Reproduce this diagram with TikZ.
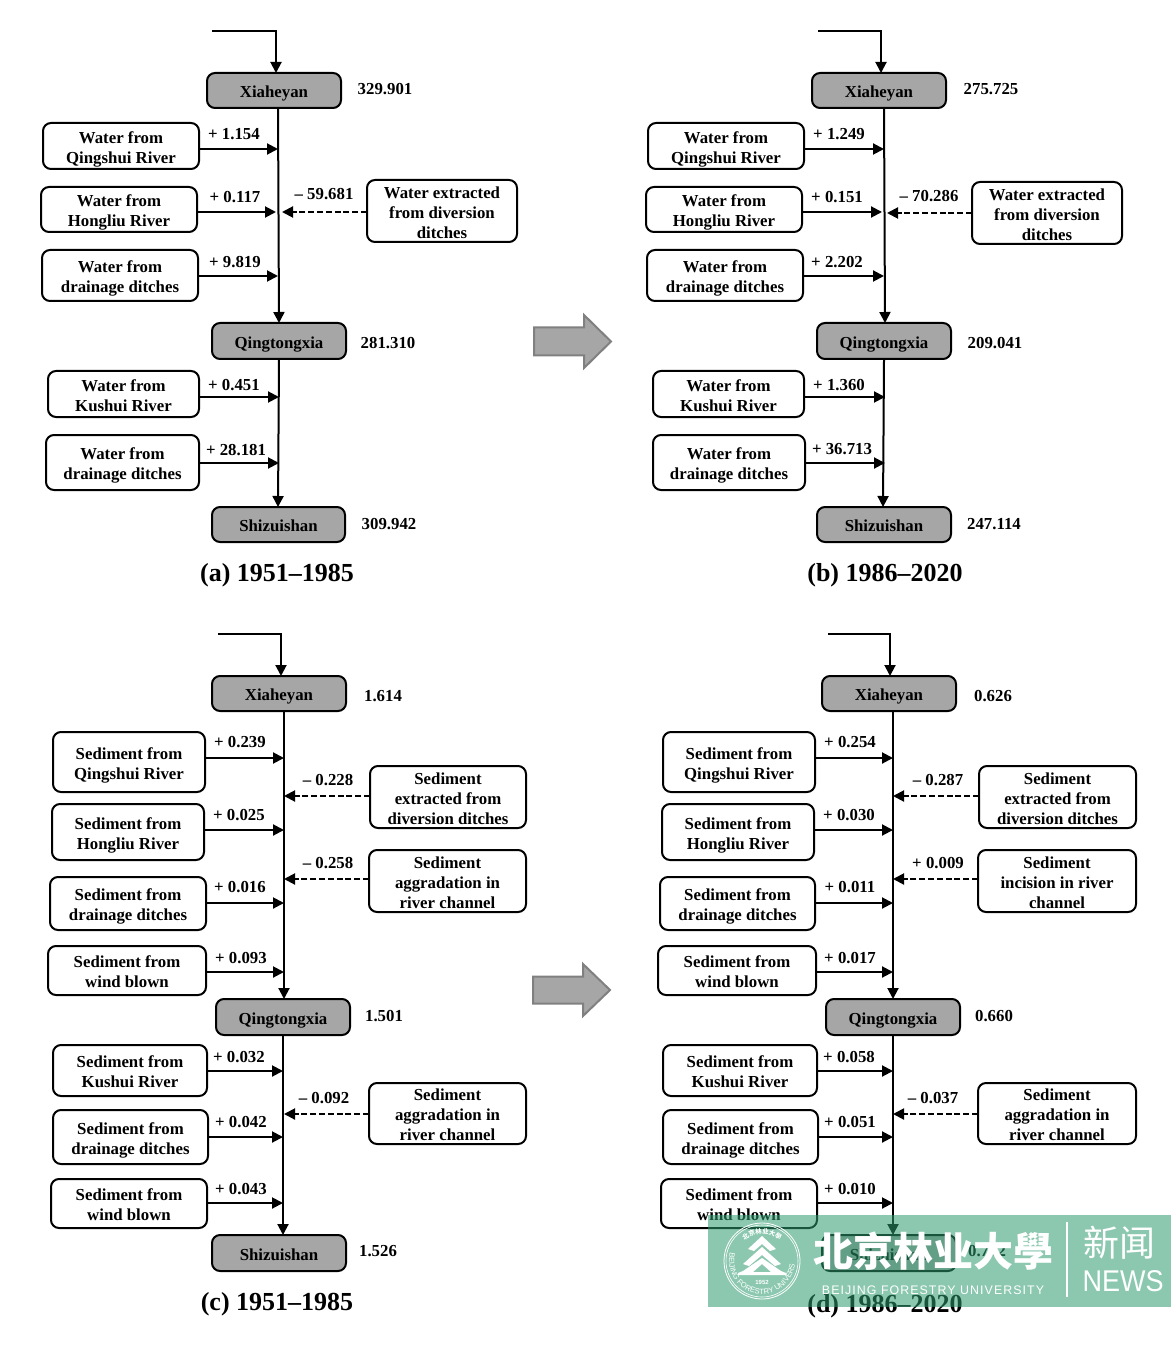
\documentclass[tikz,border=0pt]{standalone}
\usepackage{fontspec}
\setmainfont{Liberation Serif}
\newfontfamily\wmsans{Liberation Sans}
\newfontfamily\wmcjk{Noto Sans CJK SC}
\usetikzlibrary{arrows.meta,decorations.text}
\definecolor{stagray}{RGB}{166,166,166}
\definecolor{wmgreen}{RGB}{45,155,110}
\tikzset{
  base/.style={inner sep=0pt,outer sep=0pt,align=center,font=\fontsize{8.4}{10}\selectfont\bfseries},
  srcbox/.style={base,draw=black,line width=1pt,rounded corners=4pt,fill=white},
  stabox/.style={srcbox,fill=stagray},
  flowlab/.style={base},
  captext/.style={base,font=\fontsize{13}{15}\selectfont\bfseries},
  arr/.style={line width=1pt,-{Triangle[length=5.5pt,width=5.5pt]}},
  darr/.style={arr,dash pattern=on 3pt off 1.4pt},
  bigarrow/.style={fill=stagray,draw=black!50,line width=1pt},
  wmtext/.style={inner sep=0pt,outer sep=0pt,text=white},
}
\newcommand\bx[7]{%
  \pgfmathsetmacro\bxcx{(#3+#5)/2}\pgfmathsetmacro\bxcy{(#4+#6)/2}%
  \pgfmathsetmacro\bxw{(#5-#3)/2}\pgfmathsetmacro\bxh{(#6-#4)/2}%
  \node[#1,minimum width=\bxw pt,minimum height=\bxh pt] (#2) at (\bxcx,\bxcy) {\raisebox{-3.6pt}[0pt][0pt]{\begin{tabular}{@{}c@{}}#7\end{tabular}}};}
% name x1 y1 x2 y2 text tipx y
\newcommand\lflow[8]{\def\curname{#1}\bx{srcbox}{#1}{#2}{#3}{#4}{#5}{#6}%
  \coordinate (#1-t) at (#7,#8);\draw[arr] (#1.east |- #1-t) -- (#1-t);}
\newcommand\rflow[8]{\def\curname{#1}\bx{srcbox}{#1}{#2}{#3}{#4}{#5}{#6}%
  \coordinate (#1-t) at (#7,#8);\draw[darr] (#1.west |- #1-t) -- (#1-t);}
\newcommand\lab[3]{\node[flowlab] (\curname-l) at (#2,#3) {#1};}
\newcommand\val[4]{\node[flowlab] (#1) at (#2,#3+0.6) {#4};}
% from to x-out x-in
\newcommand\trunk[4]{\coordinate (#1-o) at (#3,0);\coordinate (#2-i) at (#4,0);%
  \draw[arr] (#1.south -| #1-o) -- (#2.north -| #2-i);}
% prefix x1 y x2 target
\newcommand\inflow[5]{\coordinate (#1-s) at (#2,#3);\coordinate (#1-c) at (#4,#3);%
  \draw[arr] (#1-s) -- (#1-c) -- (#1-c |- #5.north);}
\begin{document}
\begin{tikzpicture}[x=0.5pt,y=-0.5pt]
\useasboundingbox (0,0) rectangle (1171,1352);
\fill[white] (0,0) rectangle (1171,1352);

%%% Panel a
\bx{stabox}{a1}{207}{73}{341}{108}{Xiaheyan}
\bx{stabox}{a2}{212}{323}{346}{359}{Qingtongxia}
\bx{stabox}{a3}{212}{507}{345}{542}{Shizuishan}
\inflow{as}{212}{31}{276}{a1}
\trunk{a1}{a2}{278}{279}
\trunk{a2}{a3}{279}{278}
\val{av1}{385}{88}{329.901}
\val{av2}{388}{342}{281.310}
\val{av3}{389}{523}{309.942}
\lflow{al1}{43}{123}{199}{169}{Water from\\Qingshui River}{278}{149}\lab{+ 1.154}{234}{134}
\lflow{al2}{41}{187}{197}{232}{Water from\\Hongliu River}{276}{212}\lab{+ 0.117}{235}{197}
\lflow{al3}{42}{250}{198}{301}{Water from\\drainage ditches}{278}{276}\lab{+ 9.819}{235}{262}
\rflow{ar1}{367}{180}{517}{242}{Water extracted\\from diversion\\ditches}{282}{212}\lab{-- 59.681}{324}{194}
\lflow{al4}{48}{371}{199}{417}{Water from\\Kushui River}{279}{397}\lab{+ 0.451}{234}{385}
\lflow{al5}{46}{435}{199}{490}{Water from\\drainage ditches}{279}{463}\lab{+ 28.181}{236}{450}
\node[captext] (acap) at (277,575) {(a) 1951--1985};

%%% Panel b
\bx{stabox}{b1}{812}{73}{946}{108}{Xiaheyan}
\bx{stabox}{b2}{817}{323}{951}{359}{Qingtongxia}
\bx{stabox}{b3}{817}{507}{951}{542}{Shizuishan}
\inflow{bs}{818}{31}{881}{b1}
\trunk{b1}{b2}{884}{885}
\trunk{b2}{b3}{884}{883}
\val{bv1}{991}{88}{275.725}
\val{bv2}{995}{342}{209.041}
\val{bv3}{994}{523}{247.114}
\lflow{bl1}{648}{123}{804}{169}{Water from\\Qingshui River}{884}{149}\lab{+ 1.249}{839}{134}
\lflow{bl2}{646}{187}{802}{232}{Water from\\Hongliu River}{882}{212}\lab{+ 0.151}{837}{197}
\lflow{bl3}{647}{250}{803}{301}{Water from\\drainage ditches}{884}{276}\lab{+ 2.202}{837}{262}
\rflow{br1}{972}{182}{1122}{244}{Water extracted\\from diversion\\ditches}{887}{213}\lab{-- 70.286}{929}{196}
\lflow{bl4}{653}{371}{804}{417}{Water from\\Kushui River}{885}{397}\lab{+ 1.360}{839}{385}
\lflow{bl5}{653}{435}{805}{490}{Water from\\drainage ditches}{885}{463}\lab{+ 36.713}{842}{449}
\node[captext] (bcap) at (885,575) {(b) 1986--2020};

%%% Big arrows
\draw[bigarrow,line join=miter] (534,327.5) -- (584,327.5) -- (584,315) -- (611,341.5) -- (584,368) -- (584,355.5) -- (534,355.5) -- cycle;
\draw[bigarrow,line join=miter] (533,976.5) -- (583,976.5) -- (583,964) -- (610,990) -- (583,1016) -- (583,1003.5) -- (533,1003.5) -- cycle;

%%% Panel c
\bx{stabox}{c1}{212}{676}{346}{711}{Xiaheyan}
\bx{stabox}{c2}{216}{999}{350}{1035}{Qingtongxia}
\bx{stabox}{c3}{212}{1235}{346}{1271}{Shizuishan}
\inflow{cs}{218}{634}{281}{c1}
\trunk{c1}{c2}{284}{284}
\trunk{c2}{c3}{283}{283}
\val{cv1}{383}{695}{1.614}
\val{cv2}{384}{1015}{1.501}
\val{cv3}{378}{1250}{1.526}
\lflow{cl1}{53}{732}{205}{792}{Sediment from\\Qingshui River}{284}{758}\lab{+ 0.239}{240}{742}
\lflow{cl2}{52}{804}{204}{860}{Sediment from\\Hongliu River}{284}{830}\lab{+ 0.025}{239}{815}
\lflow{cl3}{50}{877}{206}{930}{Sediment from\\drainage ditches}{284}{903}\lab{+ 0.016}{240}{887}
\lflow{cl4}{48}{946}{206}{995}{Sediment from\\wind blown}{284}{972}\lab{+ 0.093}{241}{958}
\rflow{cr1}{370}{766}{526}{828}{Sediment\\extracted from\\diversion ditches}{284}{796}\lab{-- 0.228}{328}{780}
\rflow{cr2}{369}{850}{526}{912}{Sediment\\aggradation in\\river channel}{284}{879}\lab{-- 0.258}{328}{863}
\lflow{cl5}{53}{1045}{207}{1096}{Sediment from\\Kushui River}{283}{1071}\lab{+ 0.032}{239}{1057}
\lflow{cl6}{53}{1110}{208}{1164}{Sediment from\\drainage ditches}{283}{1137}\lab{+ 0.042}{241}{1122}
\lflow{cl7}{51}{1179}{207}{1228}{Sediment from\\wind blown}{283}{1203}\lab{+ 0.043}{241}{1189}
\rflow{cr3}{369}{1083}{526}{1144}{Sediment\\aggradation in\\river channel}{284}{1114}\lab{-- 0.092}{324}{1098}
\node[captext] (ccap) at (277,1304) {(c) 1951--1985};

%%% Panel d
\bx{stabox}{d1}{822}{676}{956}{711}{Xiaheyan}
\bx{stabox}{d2}{826}{999}{960}{1035}{Qingtongxia}
\bx{stabox}{d3}{822}{1235}{956}{1271}{Shizuishan}
\inflow{ds}{828}{634}{890}{d1}
\trunk{d1}{d2}{893}{893}
\trunk{d2}{d3}{893}{893}
\val{dv1}{993}{695}{0.626}
\val{dv2}{994}{1015}{0.660}
\val{dv3}{987}{1250}{0.742}
\lflow{dl1}{663}{732}{815}{792}{Sediment from\\Qingshui River}{893}{758}\lab{+ 0.254}{850}{742}
\lflow{dl2}{662}{804}{814}{860}{Sediment from\\Hongliu River}{893}{830}\lab{+ 0.030}{849}{815}
\lflow{dl3}{660}{877}{815}{930}{Sediment from\\drainage ditches}{893}{903}\lab{+ 0.011}{850}{887}
\lflow{dl4}{658}{946}{816}{995}{Sediment from\\wind blown}{893}{972}\lab{+ 0.017}{850}{958}
\rflow{dr1}{979}{766}{1136}{828}{Sediment\\extracted from\\diversion ditches}{893}{796}\lab{-- 0.287}{938}{780}
\rflow{dr2}{978}{850}{1136}{912}{Sediment\\incision in river\\channel}{893}{879}\lab{+ 0.009}{938}{863}
\lflow{dl5}{663}{1045}{817}{1096}{Sediment from\\Kushui River}{893}{1071}\lab{+ 0.058}{849}{1057}
\lflow{dl6}{663}{1110}{818}{1164}{Sediment from\\drainage ditches}{893}{1137}\lab{+ 0.051}{850}{1122}
\lflow{dl7}{661}{1179}{817}{1228}{Sediment from\\wind blown}{893}{1203}\lab{+ 0.010}{850}{1189}
\rflow{dr3}{978}{1083}{1136}{1144}{Sediment\\aggradation in\\river channel}{893}{1114}\lab{-- 0.037}{933}{1098}
\node[captext] (dcap) at (885,1306) {(d) 1986--2020};

%%% Watermark
\fill[wmgreen,opacity=.55] (708,1215) rectangle (1171,1306.5);
\begin{scope}[shift={(762,1261)}]
  \draw[white,line width=.4pt] (0,0) circle (38);
  \draw[white,line width=.3pt] (0,0) circle (36);
  \fill[white] (0,-25) -- (14,-12) -- (8,-10) -- (0,-17) -- (-8,-10) -- (-14,-12) -- cycle;
  \fill[white] (0,-14) -- (19,3) -- (13,5) -- (0,-6) -- (-13,5) -- (-19,3) -- cycle;
  \fill[white,even odd rule] (0,-3) -- (19,10) -- (24,12) -- (24,14) -- (-24,14) -- (-24,12) -- (-19,10) -- cycle
     (0,3) -- (9,11) -- (-9,11) -- cycle;
  \node[wmtext,font=\wmsans\fontsize{3}{3}\selectfont\bfseries] (seal52) at (0,21) {1952};
  \path[decorate,decoration={text along path,text align=center,
     text={|\wmsans\fontsize{3.8}{4}\selectfont\color{white}|BEIJING FORESTRY UNIVERSITY}}]
     (190:16.5pt) arc (190:350:16.5pt);
  \path[decorate,decoration={text along path,text align=center,
     text={|\wmcjk\fontsize{3.2}{4}\selectfont\bfseries\color{white}|北京林业大學}}]
     (140:13.5pt) arc (140:40:13.5pt);
\end{scope}
\node[wmtext,font=\wmcjk\fontsize{20}{22}\selectfont\bfseries,anchor=center] (wmcn) at (933,1251) {北京林业大學};
\node[wmtext,font=\wmsans\fontsize{6.2}{7}\selectfont\addfontfeature{LetterSpace=8.5}] (wmen) at (933,1290) {BEIJING FORESTRY UNIVERSITY};
\draw[white,line width=.7pt] (1067,1222) -- (1067,1297);
\node[wmtext,font=\wmcjk\fontsize{18}{20}\selectfont] (wmxw) at (1119,1243) {新闻};
\node[wmtext,xscale=.9,font=\wmsans\fontsize{15}{17}\selectfont] (wmnews) at (1123,1281) {NEWS};
\end{tikzpicture}
\end{document}
